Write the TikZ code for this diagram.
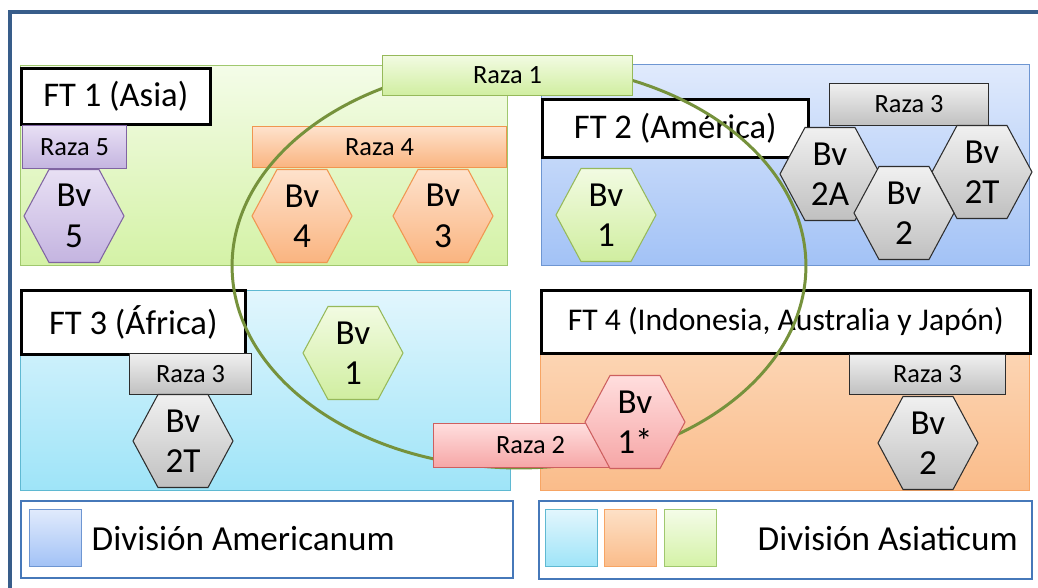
\documentclass[tikz,border=0pt]{standalone}
\usepackage{fontspec}
\setmainfont{Carlito}
\usetikzlibrary{positioning}
\definecolor{FrameBlue}{RGB}{56,93,138}
\definecolor{AsiaTop}{RGB}{244,252,232}
\definecolor{AsiaBot}{RGB}{212,242,166}
\definecolor{AsiaLine}{RGB}{160,200,110}
\definecolor{AmerTop}{RGB}{224,234,252}
\definecolor{AmerBot}{RGB}{162,194,246}
\definecolor{AmerLine}{RGB}{110,150,210}
\definecolor{AfrTop}{RGB}{226,246,253}
\definecolor{AfrBot}{RGB}{158,228,248}
\definecolor{AfrLine}{RGB}{95,185,210}
\definecolor{OceTop}{RGB}{253,224,198}
\definecolor{OceBot}{RGB}{250,188,138}
\definecolor{OceLine}{RGB}{247,165,100}
\definecolor{PurTop}{RGB}{232,224,244}
\definecolor{PurBot}{RGB}{196,180,224}
\definecolor{PurLine}{RGB}{128,100,162}
\definecolor{OrTop}{RGB}{254,226,204}
\definecolor{OrBot}{RGB}{250,180,128}
\definecolor{OrLine}{RGB}{240,150,80}
\definecolor{GrnTop}{RGB}{242,251,226}
\definecolor{GrnBot}{RGB}{208,238,160}
\definecolor{GrnLine}{RGB}{150,185,90}
\definecolor{GrayTop}{RGB}{240,240,240}
\definecolor{GrayBot}{RGB}{192,192,192}
\definecolor{GrayLine}{RGB}{45,45,45}
\definecolor{RedTop}{RGB}{255,222,222}
\definecolor{RedBot}{RGB}{246,166,166}
\definecolor{RedLine}{RGB}{205,95,95}
\definecolor{RingGreen}{RGB}{118,146,60}
\definecolor{LegendBlue}{RGB}{70,120,185}

% hexagon cell: name, centre, colour style, label
\newcommand{\bvhex}[4]{%
  \path[#3, line width=0.6pt] (#2) ++(-50,0) -- ++(25,-46.5) -- ++(50,0) -- ++(25,46.5)
    -- ++(-25,46.5) -- ++(-50,0) -- cycle;
  \node[hexcell] (#1) at (#2) {Bv\\#4};
}

\begin{document}
\begin{tikzpicture}[x=0.02cm, y=-0.02cm,
  every node/.style={align=center, inner sep=0pt},
  region/.style={draw, line width=0.8pt, anchor=north west},
  ftlabel/.style={draw=black, line width=1.5pt, fill=white, anchor=north west, font=\fontsize{19.7}{22}\selectfont},
  razabox/.style={line width=0.6pt, anchor=north west, font=\fontsize{15}{17}\selectfont},
  hexcell/.style={font=\fontsize{20}{23}\selectfont},
  purcell/.style={draw=PurLine, top color=PurTop, bottom color=PurBot},
  orcell/.style={draw=OrLine, top color=OrTop, bottom color=OrBot},
  grncell/.style={draw=GrnLine, top color=GrnTop, bottom color=GrnBot},
  graycell/.style={draw=GrayLine, top color=GrayTop, bottom color=GrayBot},
  redcell/.style={draw=RedLine, top color=RedTop, bottom color=RedBot},
  legendsq/.style={region, minimum width=1.04cm, minimum height=1.14cm},
  legendtext/.style={font=\fontsize{20}{22}\selectfont}]
  \useasboundingbox (0,0) rectangle (1038,588);
  \draw[FrameBlue, line width=2.3pt] (10,588) -- (10,12) -- (1038,12);

  % the four regions
  \node[region, draw=AsiaLine, top color=AsiaTop, bottom color=AsiaBot, minimum width=9.74cm, minimum height=4cm] (ft1) at (20,65) {};
  \node[region, draw=AmerLine, top color=AmerTop, bottom color=AmerBot, minimum width=9.76cm, minimum height=4.02cm] (ft2) at (541,64) {};
  \node[region, draw=AfrLine, top color=AfrTop, bottom color=AfrBot, minimum width=9.8cm, minimum height=4cm] (ft3) at (20,290) {};
  \node[region, draw=OceLine, top color=OceTop, bottom color=OceBot, minimum width=9.78cm, minimum height=4cm] (ft4) at (540,290) {};

  \node[ftlabel, minimum width=3.78cm, minimum height=1.12cm] (ft1t) at (20,67) {FT 1 (Asia)};
  \node[ftlabel, minimum width=5.32cm, minimum height=1.16cm] (ft2t) at (541,98) {FT 2 (América)};
  \node[ftlabel, minimum width=4.48cm, minimum height=1.28cm] (ft3t) at (20,289) {FT 3 (África)};
  \node[ftlabel, minimum width=9.78cm, minimum height=1.26cm, font=\fontsize{18}{20}\selectfont] (ft4t) at (540,289) {FT 4 (Indonesia, Australia y Japón)};

  % Asia
  \node[razabox, purcell, minimum width=2.08cm, minimum height=0.86cm] (r5) at (22,125) {Raza 5};
  \node[razabox, orcell, minimum width=5.08cm, minimum height=0.82cm] (r4) at (252,126) {Raza 4};
  \bvhex{bv5}{74,216}{purcell}{5}
  \bvhex{bv4}{302,216}{orcell}{4}
  \bvhex{bv3}{443,216}{orcell}{3}

  % America
  \node[razabox, graycell, minimum width=3.18cm, minimum height=0.84cm] (r3am) at (829,83) {Raza 3};
  \bvhex{bv1am}{606,215}{grncell}{1}
  \bvhex{bv2a}{830,174}{graycell}{2A}
  \bvhex{bv2t}{982,172}{graycell}{2T}
  \bvhex{bv2am}{904,213}{graycell}{2}

  % Africa
  \node[razabox, graycell, minimum width=2.44cm, minimum height=0.82cm] (r3af) at (129,353) {Raza 3};
  \bvhex{bv2taf}{183,441}{graycell}{2T}
  \bvhex{bv1af}{353,353}{grncell}{1}

  % Indonesia, Australia, Japan
  \node[razabox, graycell, minimum width=3.12cm, minimum height=0.8cm] (r3oc) at (849,354) {Raza 3};
  \bvhex{bv2oc}{928,443}{graycell}{2}

  % Raza 1 ring
  \draw[RingGreen, line width=1.7pt] (519,266) ellipse [x radius=5.74cm, y radius=4.04cm];
  \node[razabox, grncell, minimum width=5cm, minimum height=0.8cm] (r1) at (382,55) {Raza 1};
  \node[razabox, redcell, minimum width=3.88cm, minimum height=0.88cm] (r2) at (433,423) {Raza 2};
  \bvhex{bv1s}{635,422}{redcell}{1*}

  % legend
  \node[region, draw=LegendBlue, line width=1.2pt, fill=white, minimum width=9.84cm, minimum height=1.54cm] (legam) at (20,500) {};
  \node[region, draw=LegendBlue, line width=1.2pt, fill=white, minimum width=9.86cm, minimum height=1.56cm] (legas) at (538,500) {};
  \node[legendsq, draw=AmerLine, top color=AmerTop, bottom color=AmerBot] (sqam) at (29,509) {};
  \node[legendtext, right=0.18cm of sqam] (txam) {División Americanum};
  \node[legendsq, draw=AfrLine, top color=AfrTop, bottom color=AfrBot] (sqaf) at (545,509) {};
  \node[legendsq, draw=OceLine, top color=OceTop, bottom color=OceBot] (sqoc) at (604,509) {};
  \node[legendsq, draw=AsiaLine, top color=AsiaTop, bottom color=AsiaBot] (sqas) at (664,509) {};
  \node[legendtext, right=0.8cm of sqas] (txas) {División Asiaticum};
\end{tikzpicture}
\end{document}
